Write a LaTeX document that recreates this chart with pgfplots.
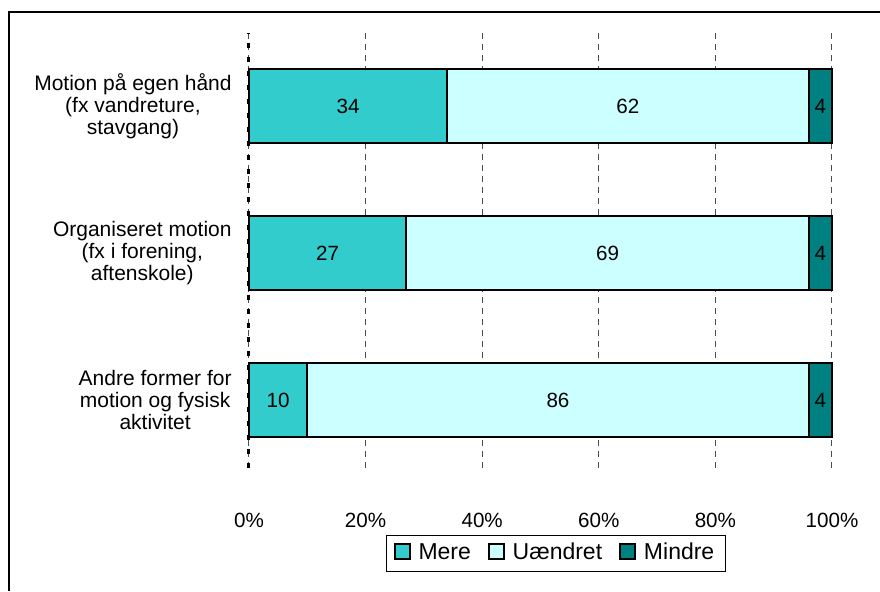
\documentclass[border=0pt]{standalone}
\usepackage{fontspec}
\setmainfont{Liberation Sans}
\usepackage{pgfplots}
\pgfplotsset{compat=1.18}
\definecolor{mere}{HTML}{33CCCC}
\definecolor{uaendret}{HTML}{CCFFFF}
\definecolor{mindre}{HTML}{008080}
\begin{document}
\fontsize{10.5}{10.9}\selectfont
\begin{tikzpicture}[x=1pt,y=1pt]
\path[use as bounding box] (0,0) rectangle (440,295.5);
\begin{axis}[
  at={(124.5pt,61.7pt)}, anchor=south west,
  scale only axis, width=291.5pt, height=217.5pt,
  clip=false,
  xbar stacked, bar width=37pt,
  xmin=0, xmax=100, ymin=-0.46, ymax=2.5,
  xtick={0,20,...,100},
  xticklabel={\pgfmathprintnumber{\tick}\%},
  /pgf/number format/assume math mode=true,
  ytick={0,1,2},
  yticklabels={{Andre former for\\motion og fysisk\\aktivitet},
               {Organiseret motion\\(fx i forening,\\aftenskole)},
               {Motion på egen hånd\\(fx vandreture,\\stavgang)}},
  yticklabel style={align=center, anchor=east, xshift=-5pt, font=\fontsize{10.5}{10.9}\selectfont},
  xticklabel style={anchor=center, yshift=-26.5pt, font=\fontsize{10.3}{12}\selectfont},
  major tick length=0pt,
  tick style={draw=none},
  axis line style={draw=none},
  xmajorgrids,
  major grid style={gray!60!black, line width=0.5pt, dash pattern=on 3pt off 2.5pt},
  nodes near coords={\pgfmathprintnumber{\rawx}},
  visualization depends on={rawx \as \rawx},
  every node near coord/.append style={anchor=center, text=black,
      font=\fontsize{10.3}{12}\selectfont},
  legend columns=3,
  legend style={at={(0.5266,-0.1975)}, anchor=center, draw=black, line width=0.5pt,
      font=\fontsize{11.5}{13}\selectfont, inner xsep=3.5pt, inner ysep=2.5pt,
      cells={anchor=base west, inner xsep=0pt, inner ysep=0pt, text height=7.4pt, text depth=8pt},
      /tikz/every odd column/.append style={column sep=2pt},
      /tikz/every even column/.append style={column sep=6.5pt}},
  legend image code/.code={\draw[#1, draw=black, line width=0.9pt] (0pt,0.3pt) rectangle (7.5pt,7.8pt);},
]
\addplot[fill=mere, draw=black, line width=1pt] coordinates {(10,0) (27,1) (34,2)};
\addplot[fill=uaendret, draw=black, line width=1pt] coordinates {(86,0) (69,1) (62,2)};
\addplot[fill=mindre, draw=black, line width=1pt] coordinates {(4,0) (4,1) (4,2)};
\legend{Mere,Uændret,Mindre}
\draw[black, line width=1.5pt, dash pattern=on 2.5pt off 4.5pt] (axis cs:0,-0.46) -- (axis cs:0,2.5);
\end{axis}
\draw[line width=0.6pt] (4.5,0) -- (4.5,289.5) -- (440,289.5);
\end{tikzpicture}
\end{document}
